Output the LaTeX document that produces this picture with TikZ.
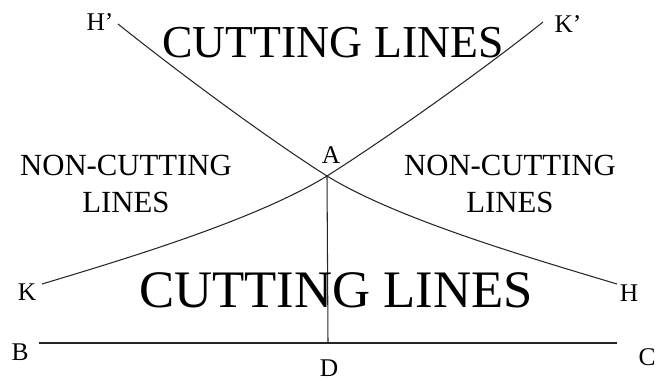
\documentclass[tikz,border=0pt]{standalone}
\usepackage{fontspec}
\setmainfont{Liberation Serif}
\usetikzlibrary{calc}

\begin{document}
\begin{tikzpicture}[
    x=0.02cm, y=-0.02cm,
    curveline/.style={line width=0.6pt, black!85},
    baseline/.style={line width=0.6pt, black!85},
    pointlabel/.style={inner sep=0pt, font=\fontsize{14.5}{17}\selectfont},
    bigregion/.style={inner sep=0pt, align=center, font=\fontsize{26}{30}\selectfont},
    sideregion/.style={inner sep=0pt, align=center, font=\fontsize{17.5}{21}\selectfont}
]
\useasboundingbox (0,0) rectangle (662,380);
\coordinate (Hp) at (118,24);
\coordinate (Kp) at (543,22);
\coordinate (A) at (327,176);
\coordinate (H) at (617,284);
\coordinate (K) at (42,284);
\coordinate (B) at (39,343);
\coordinate (C) at (617,343);
\coordinate (D) at (328,343);
% the two curves through A
\draw[curveline] (Hp) .. controls ($(Hp)+(60,48)$) and ($(A)+(-60,-38)$) .. (A)
    .. controls ($(A)+(70,43)$) and ($(H)+(-90,-27)$) .. (H);
\draw[curveline] (Kp) .. controls ($(Kp)+(-60,48)$) and ($(A)+(60,-38)$) .. (A)
    .. controls ($(A)+(-70,43)$) and ($(K)+(90,-27)$) .. (K);
\draw[baseline] (A) -- (D);
\draw[baseline] (B) -- (C);
% point labels
\node[pointlabel] (lHp) at (100,22) {H’};
\node[pointlabel] (lKp) at (568,24) {K’};
\node[pointlabel] (lA) at (331,155) {A};
\node[pointlabel] (lK) at (27,292) {K};
\node[pointlabel] (lH) at (629,293) {H};
\node[pointlabel] (lB) at (20,352) {B};
\node[pointlabel] (lC) at (647,357) {C};
\node[pointlabel] (lD) at (329,368) {D};
% regions
\node[bigregion] (cuttop) at (333,43) {CUTTING LINES};
\node[bigregion, font=\fontsize{30}{34}\selectfont] (cutbot) at (336,290) {CUTTING LINES};
\node[sideregion] (nonleft) at (126,184) {NON-CUTTING\\LINES};
\node[sideregion] (nonright) at (510,184) {NON-CUTTING\\LINES};
\end{tikzpicture}
\end{document}
